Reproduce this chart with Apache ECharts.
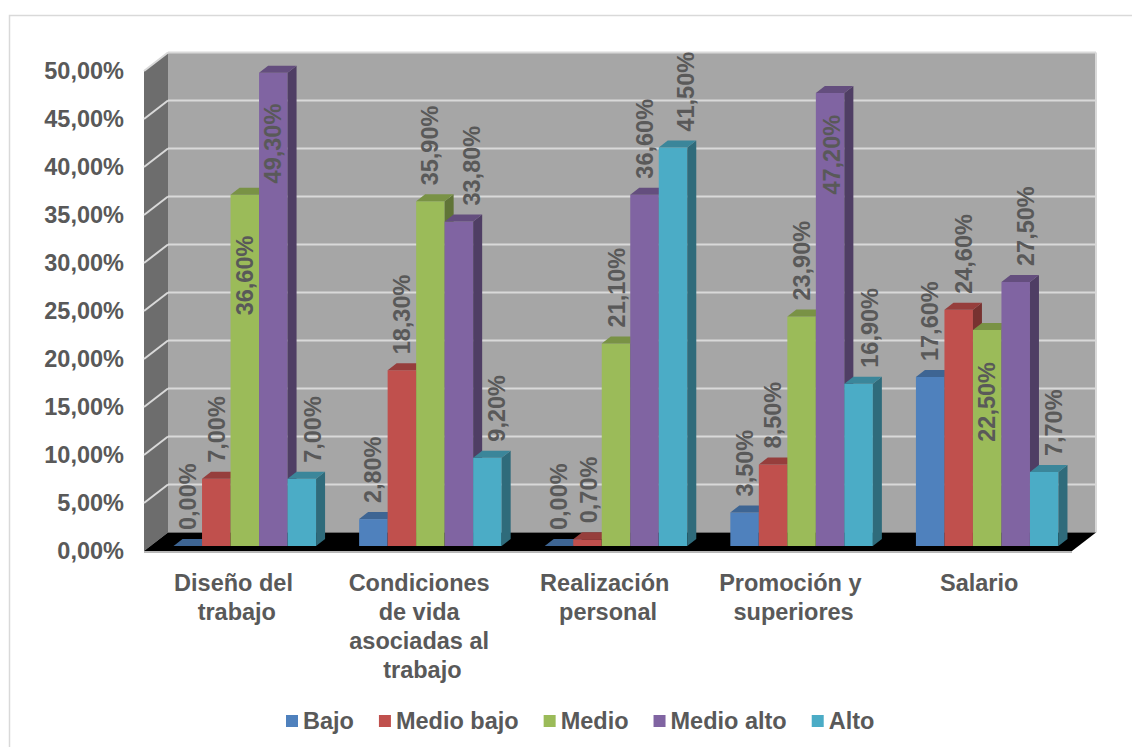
<!DOCTYPE html>
<html>
<head>
<meta charset="utf-8">
<title>Niveles por dimensión</title>
<script src="https://cdn.jsdelivr.net/npm/echarts@6/dist/echarts.min.js"></script>
<style>
  html, body { margin: 0; padding: 0; background: #ffffff; }
  #chart { width: 1132px; height: 747px; }
</style>
</head>
<body>
<div id="chart"></div>
<script>
// ---- data ----
const categories = [
  'Diseño del trabajo',
  'Condiciones de vida asociadas al trabajo',
  'Realización personal',
  'Promoción y superiores',
  'Salario'
];
const seriesNames = ['Bajo', 'Medio bajo', 'Medio', 'Medio alto', 'Alto'];
const bajo      = [0.0, 2.8, 0.0, 3.5, 17.6];
const medioBajo = [7.0, 18.3, 0.7, 8.5, 24.6];
const medio     = [36.6, 35.9, 21.1, 23.9, 22.5];
const medioAlto = [49.3, 33.8, 36.6, 47.2, 27.5];
const alto      = [7.0, 9.2, 41.5, 16.9, 7.7];
const yTicks    = [0, 5, 10, 15, 20, 25, 30, 35, 40, 45, 50];

const seriesValues = [bajo, medioBajo, medio, medioAlto, alto];

// ---- look ----
const FONT = "'Liberation Sans', Arial, sans-serif";
const TEXT_COLOR = '#595959';
const FRONT_COLORS = ['#4f81bd', '#c0504d', '#9bbb59', '#8064a2', '#4bacc6'];

// 3D projection offsets (pixels) relative to the plane of the bar fronts
const BACK_OFFSET = [16, -13.5];   // back wall plane
const FRONT_OFFSET = [-8, 5];      // front edge of floor / side wall
const BAR_DEPTH = [9, -7];         // depth of each column
const BAR_FRACTION = 0.1536;       // column width as a share of a category band

// label placement per series: 'out' above the column, 'in' inside its top;
// shift moves the label sideways, gap is the distance from the column top
const labelPlacement = [
  { mode: ['out', 'out', 'out', 'out', 'out'], shift: [0, 0, 0, 0, 0], gap: [16, 16, 16, 16, 16] },
  { mode: ['out', 'out', 'out', 'out', 'out'], shift: [1, 0, 2, 0, 5], gap: [16, 16, 16, 16, 16] },
  { mode: ['in', 'out', 'out', 'out', 'in'], shift: [0, 0, 1, 0, 0], gap: [41, 16, 16, 16, 32] },
  { mode: ['in', 'out', 'out', 'in', 'out'], shift: [0, 13, 0, 2, 10], gap: [31, 16, 16, 22, 16] },
  { mode: ['out', 'out', 'out', 'out', 'out'], shift: [11, 10, 13, 11, 10], gap: [16, 16, 16, 16, 16] }
];

function shade(hex, f) {
  const n = parseInt(hex.slice(1), 16);
  const r = Math.round(((n >> 16) & 255) * f);
  const g = Math.round(((n >> 8) & 255) * f);
  const b = Math.round((n & 255) * f);
  return 'rgb(' + r + ',' + g + ',' + b + ')';
}

function pct(v) {
  return v.toFixed(2).replace('.', ',') + '%';
}

// walls, floor and gridlines of the 3D box
function renderFrame(params, api) {
  const cs = params.coordSys;
  const x0 = cs.x, x1 = cs.x + cs.width;
  const v = api.value(1);
  const y = api.coord([0, v])[1];
  const [bx, by] = BACK_OFFSET;
  const [fx, fy] = FRONT_OFFSET;
  const children = [];
  if (params.dataIndex === 0) {
    const yTop = api.coord([0, yTicks[yTicks.length - 1]])[1];
    const y0 = y;
    children.push({
      type: 'polygon',
      shape: { points: [[x0 + bx, yTop + by], [x1 + bx, yTop + by], [x1 + bx, y0 + by], [x0 + bx, y0 + by]] },
      style: { fill: '#a6a6a6' }
    });
    children.push({
      type: 'polygon',
      shape: { points: [[x0 + fx, yTop + fy], [x0 + bx, yTop + by], [x0 + bx, y0 + by], [x0 + fx, y0 + fy]] },
      style: { fill: '#6d6d6d' }
    });
    children.push({
      type: 'line',
      shape: { x1: x1 + bx, y1: yTop + by, x2: x1 + bx, y2: y0 + by },
      style: { stroke: '#d9d9d9', lineWidth: 2 }
    });
    children.push({
      type: 'polygon',
      shape: { points: [[x0 + fx, y0 + fy], [x1 + fx, y0 + fy], [x1 + bx, y0 + by], [x0 + bx, y0 + by]] },
      style: { fill: '#000000' }
    });
    children.push({
      type: 'line',
      shape: { x1: x0 + fx, y1: y0 + fy + 1, x2: x1 + fx, y2: y0 + fy + 1 },
      style: { stroke: '#a0a0a0', lineWidth: 1.5 }
    });
  }
  if (v !== 0) {
    children.push({
      type: 'line',
      shape: { x1: x0 + bx, y1: y + by, x2: x1 + bx, y2: y + by },
      style: { stroke: '#d9d9d9', lineWidth: 2 }
    });
    children.push({
      type: 'line',
      shape: { x1: x0 + fx, y1: y + fy, x2: x0 + bx, y2: y + by },
      style: { stroke: '#d9d9d9', lineWidth: 2 }
    });
  }
  return { type: 'group', children: children };
}

function makeColumnRenderer(k) {
  const front = FRONT_COLORS[k];
  const topColor = shade(front, 0.78);
  const sideColor = shade(front, 0.62);
  const place = labelPlacement[k];
  return function (params, api) {
    const j = api.value(0);
    const v = api.value(1);
    const top = api.coord([j, v]);
    const base = api.coord([j, 0]);
    const band = api.size([1, 0])[0];
    const bw = band * BAR_FRACTION;
    const xL = top[0] + (k - 2.5) * bw;
    const xR = xL + bw;
    const yT = top[1];
    const yB = base[1];
    const [dx, dy] = BAR_DEPTH;
    const inside = place.mode[j] === 'in';
    const lx = (xL + xR) / 2 + place.shift[j];
    const ly = inside ? yT + place.gap[j] : yT - place.gap[j];
    return {
      type: 'group',
      children: [
        { type: 'rect', shape: { x: xL, y: yT, width: bw, height: yB - yT }, style: { fill: front } },
        { type: 'polygon', shape: { points: [[xR, yT], [xR + dx, yT + dy], [xR + dx, yB + dy], [xR, yB]] }, style: { fill: sideColor } },
        { type: 'polygon', shape: { points: [[xL, yT], [xL + dx, yT + dy], [xR + dx, yT + dy], [xR, yT]] }, style: { fill: topColor } },
        {
          type: 'text',
          x: lx,
          y: ly,
          rotation: Math.PI / 2,
          z2: 100,
          style: {
            text: pct(v),
            fill: TEXT_COLOR,
            fontSize: 23.5,
            fontWeight: 'bold',
            fontFamily: FONT,
            align: inside ? 'right' : 'left',
            verticalAlign: 'middle'
          }
        }
      ]
    };
  };
}

const chart = echarts.init(document.getElementById('chart'), null, { renderer: 'svg' });

const series = [{
  type: 'custom',
  name: 'marco',
  xAxisIndex: 0,
  yAxisIndex: 0,
  silent: true,
  renderItem: renderFrame,
  encode: { x: 0, y: 1 },
  data: yTicks.map(function (t) { return [0, t]; })
}];
seriesValues.forEach(function (vals, k) {
  series.push({
    type: 'custom',
    name: seriesNames[k],
    xAxisIndex: 0,
    yAxisIndex: 0,
    silent: true,
    itemStyle: { color: FRONT_COLORS[k] },
    renderItem: makeColumnRenderer(k),
    encode: { x: 0, y: 1 },
    data: vals.map(function (v, j) { return [j, v]; })
  });
});

const yMin = yTicks[0];
const yMax = yTicks[yTicks.length - 1];
const yStep = yTicks[1] - yTicks[0];

chart.setOption({
  animation: false,
  backgroundColor: '#ffffff',
  color: FRONT_COLORS,
  textStyle: { fontFamily: FONT },
  graphic: [{
    type: 'rect',
    silent: true,
    z: -10,
    shape: { x: 9.5, y: 15.5, width: 1200, height: 800 },
    style: { fill: 'none', stroke: '#d9d9d9', lineWidth: 1.5 }
  }],
  grid: [
    // plane of the column fronts
    { left: 152, top: 66, width: 928, height: 480 },
    // front edge of the box, carries the axis labels
    { left: 144, top: 71, width: 928, height: 480 }
  ],
  xAxis: [
    { gridIndex: 0, type: 'category', data: categories, show: false },
    {
      gridIndex: 1,
      type: 'category',
      data: categories,
      axisLine: { show: false },
      axisTick: { show: false },
      splitLine: { show: false },
      axisLabel: {
        interval: 0,
        margin: 17,
        color: TEXT_COLOR,
        fontSize: 23.5,
        fontWeight: 'bold',
        fontFamily: FONT,
        lineHeight: 29,
        width: 162,
        overflow: 'break',
        align: 'center'
      }
    }
  ],
  yAxis: [
    { gridIndex: 0, type: 'value', min: yMin, max: yMax, interval: yStep, show: false },
    {
      gridIndex: 1,
      type: 'value',
      min: yMin,
      max: yMax,
      interval: yStep,
      axisLine: { show: false },
      axisTick: { show: false },
      splitLine: { show: false },
      axisLabel: {
        margin: 20,
        color: TEXT_COLOR,
        fontSize: 23.5,
        fontWeight: 'bold',
        fontFamily: FONT,
        formatter: function (v) { return pct(v); }
      }
    }
  ],
  legend: {
    data: seriesNames,
    left: 281,
    top: 703,
    icon: 'rect',
    itemWidth: 12,
    itemHeight: 12,
    itemGap: 25,
    selectedMode: false,
    textStyle: {
      color: TEXT_COLOR,
      fontSize: 23.5,
      fontWeight: 'bold',
      fontFamily: FONT,
      lineHeight: 26
    }
  },
  series: series
});
</script>
</body>
</html>
